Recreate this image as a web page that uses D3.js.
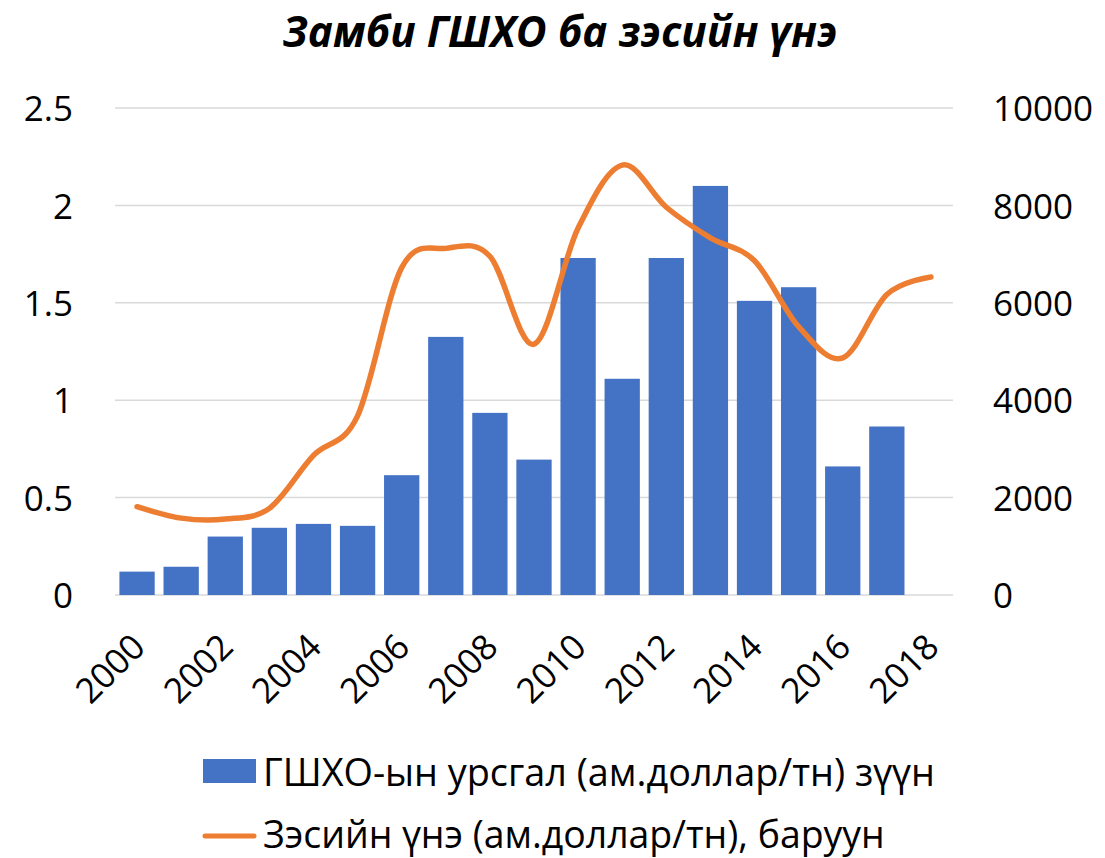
<!DOCTYPE html>
<html>
<head>
<meta charset="utf-8">
<script src="https://cdn.jsdelivr.net/npm/d3@7/dist/d3.min.js"></script>
<style>
  html, body { margin: 0; padding: 0; background: #fff; }
  svg text { font-family: "Open Sans", "Noto Sans", sans-serif; fill: #000; }
</style>
</head>
<body>
<svg id="chart" width="1105" height="858"></svg>
<script>
// data
const years = [2000, 2001, 2002, 2003, 2004, 2005, 2006, 2007, 2008, 2009,
  2010, 2011, 2012, 2013, 2014, 2015, 2016, 2017, 2018];
const barYears = years.slice(0, 18);
const fdiFlow = [0.12, 0.145, 0.30, 0.345, 0.365, 0.355, 0.615, 1.325, 0.935, 0.695,
  1.73, 1.11, 1.73, 2.10, 1.51, 1.58, 0.66, 0.865];
const copperPrice = [1813, 1578, 1559, 1779, 2866, 3679, 6722, 7118, 6956, 5150,
  7535, 8828, 7962, 7332, 6863, 5510, 4868, 6170, 6530];
const leftTicks = [0, 0.5, 1, 1.5, 2, 2.5];
const rightTicks = [0, 2000, 4000, 6000, 8000, 10000];
const xTickYears = [2000, 2002, 2004, 2006, 2008, 2010, 2012, 2014, 2016, 2018];
const titleText = "Замби ГШХО ба зэсийн үнэ";
const legendBar = "ГШХО-ын урсгал (ам.доллар/тн) зүүн";
const legendLine = "Зэсийн үнэ (ам.доллар/тн), баруун";

const BLUE = "#4472C4", ORANGE = "#ED7D31", GRID = "#D9D9D9";
const plot = { left: 115, right: 953, top: 108, bottom: 595 };

const svg = d3.select("#chart");

// fit a text element to a given width by tuning font-size
function fitWidth(sel, target) {
  const w = sel.node().getComputedTextLength();
  const fs = parseFloat(sel.attr("font-size"));
  sel.attr("font-size", fs * target / w);
}

const x = d3.scaleBand()
  .domain(years)
  .range([plot.left, plot.right])
  .paddingInner(0.2)
  .paddingOuter(0.1);

const yL = d3.scaleLinear().domain([0, 2.5]).range([plot.bottom, plot.top]);
const yR = d3.scaleLinear().domain([0, 10000]).range([plot.bottom, plot.top]);

// gridlines
svg.append("g")
  .selectAll("line")
  .data(leftTicks)
  .join("line")
  .attr("x1", plot.left).attr("x2", plot.right)
  .attr("y1", d => yL(d)).attr("y2", d => yL(d))
  .attr("stroke", GRID).attr("stroke-width", 1.5);

// left axis
const axL = svg.append("g")
  .attr("transform", `translate(${plot.left},0)`)
  .call(d3.axisLeft(yL).tickValues(leftTicks).tickSize(0).tickPadding(42)
    .tickFormat(d => String(d)));
axL.select(".domain").remove();
axL.selectAll("text").attr("font-size", 35).attr("font-family", null).attr("dy", "0.36em");

// right axis
const axR = svg.append("g")
  .attr("transform", `translate(${plot.right},0)`)
  .call(d3.axisRight(yR).tickValues(rightTicks).tickSize(0).tickPadding(40)
    .tickFormat(d => String(d)));
axR.select(".domain").remove();
axR.selectAll("text").attr("font-size", 35).attr("font-family", null).attr("dy", "0.36em");

// bars
svg.append("g")
  .selectAll("rect")
  .data(barYears.map((yr, i) => ({ yr, v: fdiFlow[i] })))
  .join("rect")
  .attr("x", d => x(d.yr))
  .attr("width", x.bandwidth())
  .attr("y", d => yL(d.v))
  .attr("height", d => yL(0) - yL(d.v))
  .attr("fill", BLUE);

// line
const line = d3.line()
  .x((d, i) => x(years[i]) + x.bandwidth() / 2)
  .y(d => yR(d))
  .curve(d3.curveCardinal.tension(0));

svg.append("path")
  .datum(copperPrice)
  .attr("d", line)
  .attr("fill", "none")
  .attr("stroke", ORANGE)
  .attr("stroke-width", 5.5)
  .attr("stroke-linecap", "round")
  .attr("stroke-linejoin", "round");

// x axis labels, rotated
const axX = svg.append("g")
  .attr("transform", `translate(0,${plot.bottom})`)
  .call(d3.axisBottom(x).tickValues(xTickYears).tickSize(0).tickPadding(0));
axX.select(".domain").remove();
axX.selectAll("text")
  .attr("font-size", 35)
  .attr("font-family", null)
  .attr("text-anchor", "end")
  .attr("dy", null)
  .attr("y", 0)
  .attr("transform", "translate(10,54) rotate(-45)");

// title
const title = svg.append("text")
  .attr("x", 560).attr("y", 47)
  .attr("text-anchor", "middle")
  .attr("font-size", 36)
  .attr("font-weight", "bold")
  .attr("font-style", "italic")
  .text(titleText);
fitWidth(title, 555);

// legend
const lg = svg.append("g");
lg.append("rect")
  .attr("x", 203).attr("y", 759).attr("width", 53).attr("height", 24)
  .attr("fill", BLUE);
const t1 = lg.append("text")
  .attr("x", 263).attr("y", 772).attr("dy", "0.36em")
  .attr("font-size", 34)
  .text(legendBar);
fitWidth(t1, 672);

lg.append("line")
  .attr("x1", 205).attr("x2", 254).attr("y1", 836).attr("y2", 836)
  .attr("stroke", ORANGE).attr("stroke-width", 5).attr("stroke-linecap", "round");
const t2 = lg.append("text")
  .attr("x", 263).attr("y", 835).attr("dy", "0.36em")
  .attr("font-size", 34)
  .text(legendLine);
fitWidth(t2, 622);
</script>
</body>
</html>
